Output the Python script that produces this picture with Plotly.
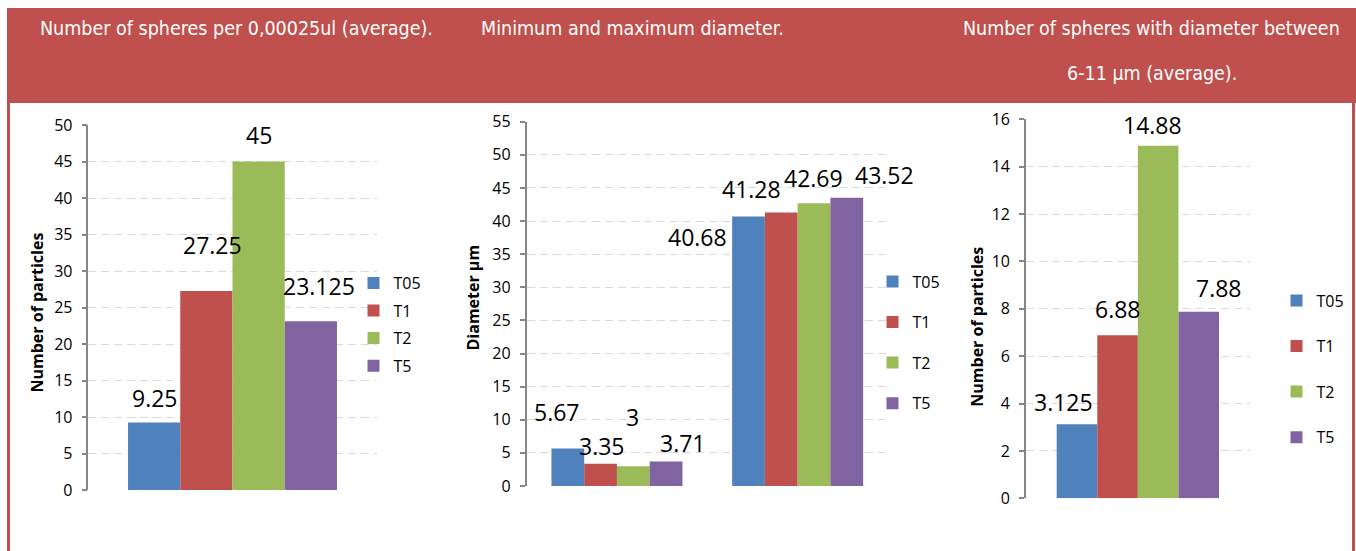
import plotly.graph_objects as go

# Treatment groups and their colours
series = ["T05", "T1", "T2", "T5"]
colors = ["#4F81BD", "#C0504D", "#9BBB59", "#8064A2"]

# Panel values
spheres_avg = [9.25, 27.25, 45, 23.125]          # spheres per 0,00025ul
diam_min = [5.67, 3.35, 3, 3.71]                  # minimum diameter (µm)
diam_max = [40.68, 41.28, 42.69, 43.52]           # maximum diameter (µm)
spheres_6_11 = [3.125, 6.88, 14.88, 7.88]         # spheres 6-11 µm

panel_titles = [
    ["Number of spheres per 0,00025ul (average)."],
    ["Minimum and maximum diameter."],
    ["Number of spheres with diameter between", "6-11 µm (average)."],
]
y_titles = ["Number of particles", "Diameter µm", "Number of particles"]

# ---- page geometry (pixels) ----
W, H = 1356, 551
RED = "#C0504D"
BARGAP = 0.275
BODY = "Open Sans, Liberation Sans, sans-serif"
LABEL_FONT = dict(family=BODY, size=23, color="#000000")
TICK_FONT = dict(family=BODY, size=16, color="#000000")
LEGEND_FONT = dict(family=BODY, size=16, color="#000000")
HEAD_FONT = dict(family="Liberation Sans Narrow, DejaVu Sans Condensed, sans-serif",
                 size=19.5, color="#FFFFFF")


def px_x(p):
    return p / W


def px_y(p):
    return 1 - p / H


# plot-area boxes: (left, right, bottom, top) in px
boxes = [
    (88.4, 376.6, 490.0, 125.0),
    (526.6, 888.0, 486.0, 121.7),
    (1025.9, 1249.8, 498.3, 119.3),
]

fig = go.Figure()

panels = [
    dict(cats=[0], values=[[v] for v in spheres_avg], yrange=[0, 50], dtick=5),
    dict(cats=[0, 1], values=[[a, b] for a, b in zip(diam_min, diam_max)], yrange=[0, 55], dtick=5),
    dict(cats=[0], values=[[v] for v in spheres_6_11], yrange=[0, 16], dtick=2),
]

legend_names = ["legend", "legend2", "legend3"]

for k, panel in enumerate(panels):
    xa = "x" if k == 0 else f"x{k + 1}"
    ya = "y" if k == 0 else f"y{k + 1}"
    for i, name in enumerate(series):
        fig.add_trace(go.Bar(
            x=panel["cats"], y=panel["values"][i], name=name,
            marker=dict(color=colors[i], line=dict(width=0)),
            xaxis=xa, yaxis=ya, legend=legend_names[k],
            legendgroup=f"{k}-{name}",
            hoverinfo="skip",
        ))

# label nudges (px): (dx, dy-up) per bar, per category
label_nudges = [
    [[(0.5, 24.5)], [(6.5, 46)], [(0, 26.5)], [(8.5, 35)]],
    [[(-10.5, 36.7), (-51, -20.2)], [(1, 17.8), (-30, 23.3)],
     [(-0.5, 49.4), (-0.5, 25.2)], [(17, 18.1), (38, 22.7)]],
    [[(-13, 22.6)], [(0, 26.3)], [(-5.6, 20.8)], [(20, 23.6)]],
]

annotations = []
for k, panel in enumerate(panels):
    xa = "x" if k == 0 else f"x{k + 1}"
    ya = "y" if k == 0 else f"y{k + 1}"
    slot = (1 - BARGAP) / len(series)
    for i in range(len(series)):
        for j, c in enumerate(panel["cats"]):
            v = panel["values"][i][j]
            dx, dy = label_nudges[k][i][j]
            annotations.append(dict(
                x=c + (i - 1.5) * slot, y=v, xref=xa, yref=ya,
                text=f"{v:g}", showarrow=False, font=LABEL_FONT,
                xanchor="center", yanchor="middle", xshift=dx, yshift=dy,
            ))

# header titles (one annotation per line)
title_centres = [236, 632.5, 1151.7]
title_rows = [29, 73.5]
for cx, lines in zip(title_centres, panel_titles):
    for row, line in zip(title_rows, lines):
        annotations.append(dict(
            x=px_x(cx), y=px_y(row), xref="paper", yref="paper", text=line,
            showarrow=False, font=HEAD_FONT, xanchor="center", yanchor="middle",
        ))

# y-axis titles
ytitle_pos = [(36, 312.5), (472, 297.5), (977, 326.7)]
for (xp, yp), t in zip(ytitle_pos, y_titles):
    annotations.append(dict(
        x=px_x(xp), y=px_y(yp), xref="paper", yref="paper", text=f"<b>{t}</b>",
        showarrow=False, textangle=-90, xanchor="center", yanchor="middle",
        font=dict(family=BODY, size=16, color="#000000"),
    ))

layout = dict(
    width=W, height=H,
    margin=dict(l=0, r=0, t=0, b=0, autoexpand=False),
    paper_bgcolor="#FFFFFF", plot_bgcolor="rgba(0,0,0,0)",
    barmode="group", bargap=BARGAP, bargroupgap=0,
    annotations=annotations,
    shapes=[
        dict(type="rect", xref="paper", yref="paper", x0=px_x(7), x1=1,
             y0=px_y(103), y1=px_y(8), fillcolor=RED, line=dict(width=0), layer="below"),
        dict(type="rect", xref="paper", yref="paper", x0=px_x(7), x1=px_x(10),
             y0=0, y1=px_y(103), fillcolor=RED, line=dict(width=0), layer="below"),
        dict(type="rect", xref="paper", yref="paper", x0=px_x(1352), x1=px_x(1355),
             y0=0, y1=px_y(103), fillcolor=RED, line=dict(width=0), layer="below"),
    ],
)

legend_pos = [(375.5, 324.5, 3.8), (894.5, 342.5, 16.8), (1298.5, 369.0, 21.8)]
for k, (cx, cy, gap) in enumerate(legend_pos):
    layout[legend_names[k]] = dict(
        x=px_x(cx - 22), y=px_y(cy), xanchor="left", yanchor="middle",
        font=LEGEND_FONT, bgcolor="rgba(0,0,0,0)", borderwidth=0,
        tracegroupgap=gap, traceorder="grouped", itemclick=False, itemdoubleclick=False,
    )

for k, (panel, box) in enumerate(zip(panels, boxes)):
    left, right, bottom, top = box
    xkey = "xaxis" if k == 0 else f"xaxis{k + 1}"
    ykey = "yaxis" if k == 0 else f"yaxis{k + 1}"
    xa_anchor = "y" if k == 0 else f"y{k + 1}"
    ya_anchor = "x" if k == 0 else f"x{k + 1}"
    layout[xkey] = dict(
        domain=[px_x(left), px_x(right)], anchor=xa_anchor, automargin=False,
        range=[-0.5, len(panel["cats"]) - 0.5], showgrid=False, zeroline=False,
        showline=False, showticklabels=False, ticks="", fixedrange=True,
    )
    layout[ykey] = dict(
        domain=[px_y(bottom), px_y(top)], anchor=ya_anchor, automargin=False,
        range=panel["yrange"], dtick=panel["dtick"], tick0=0,
        showgrid=True, gridcolor="#D9D9D9", griddash="8px,5px", gridwidth=1,
        zeroline=False, showline=True, linecolor="#868686", linewidth=1.5,
        ticks="outside", ticklen=5, tickcolor="#868686", tickwidth=1.5,
        tickfont=TICK_FONT, ticklabelstandoff=6, fixedrange=True,
    )

fig.update_layout(**layout)
fig.write_html("out.html")
